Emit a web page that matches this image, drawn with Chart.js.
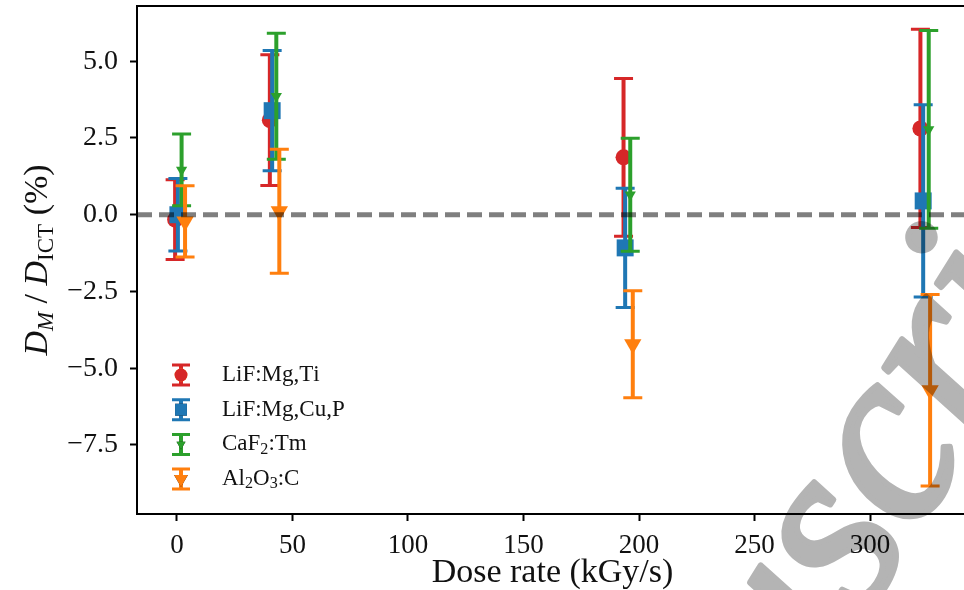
<!DOCTYPE html>
<html>
<head>
<meta charset="utf-8">
<script src="https://cdn.jsdelivr.net/npm/chart.js@4.4.1/dist/chart.umd.min.js"></script>
<style>
  html, body { margin: 0; padding: 0; overflow: hidden; background: #fff; }
  #wrap { width: 980px; height: 596px; margin-top: -6px; }
</style>
</head>
<body>
<div id="wrap"><canvas id="chart" width="980" height="596"></canvas></div>
<script>
// values (offsets in x are as plotted)
const seriesNames = ['LiF:Mg,Ti', 'LiF:Mg,Cu,P', 'CaF₂:Tm', 'Al₂O₃:C'];
const seriesColors = ['#d62728', '#1f77b4', '#2ca02c', '#ff7f0e'];

const lifTiX = [-0.8, 40.2, 193.3, 321.8];
const lifTiY = [-0.16, 3.08, 1.87, 2.81];
const lifTiErr = [1.30, 2.13, 2.57, 3.23];

const lifCuX = [0.4, 41.2, 194.0, 323.0];
const lifCuY = [0.0, 3.39, -1.08, 0.45];
const lifCuErr = [1.18, 1.96, 1.94, 3.13];

const caf2X = [2.0, 43.0, 196.2, 325.4];
const caf2Y = [1.46, 3.86, 0.65, 2.78];
const caf2Err = [1.17, 2.05, 1.84, 3.22];

const al2o3X = [3.5, 44.3, 197.3, 326.0];
const al2o3Y = [-0.22, 0.11, -4.22, -5.72];
const al2o3Err = [1.16, 2.02, 1.74, 3.12];

const xLimits = [-17.3, 342.4];
const yLimits = [-9.75, 6.8];
const watermark = 'Manuscript';

const allX = [lifTiX, lifCuX, caf2X, al2o3X];
const allY = [lifTiY, lifCuY, caf2Y, al2o3Y];
const allErr = [lifTiErr, lifCuErr, caf2Err, al2o3Err];
const markers = [
  { style: 'circle', radius: 8, rotation: 0 },
  { style: 'rect', radius: 12, rotation: 0 },
  { style: 'triangle', radius: 6.5, rotation: 180 },
  { style: 'triangle', radius: 10, rotation: 180 }
];

const serif = '"Liberation Serif", "DejaVu Serif", serif';
const subMap = { '₀': '0', '₁': '1', '₂': '2', '₃': '3', '₄': '4' };
const SHIFT = 6; // canvas is pulled up by this much

function drawRich(ctx, text, x, y, size) {
  // unicode subscript digits drawn as real subscripts
  let cx = x;
  for (const ch of text) {
    if (subMap[ch]) {
      ctx.font = (size * 0.7) + 'px ' + serif;
      ctx.fillText(subMap[ch], cx, y + size * 0.22);
      cx += ctx.measureText(subMap[ch]).width;
    } else {
      ctx.font = size + 'px ' + serif;
      ctx.fillText(ch, cx, y);
      cx += ctx.measureText(ch).width;
    }
  }
}

function drawErrBar(ctx, x, yTop, yBot, color, capHalf) {
  ctx.save();
  ctx.strokeStyle = color;
  ctx.lineWidth = 4;
  ctx.beginPath();
  ctx.moveTo(x, yTop); ctx.lineTo(x, yBot);
  ctx.stroke();
  ctx.lineWidth = 3;
  ctx.beginPath();
  ctx.moveTo(x - capHalf, yTop); ctx.lineTo(x + capHalf, yTop);
  ctx.moveTo(x - capHalf, yBot); ctx.lineTo(x + capHalf, yBot);
  ctx.stroke();
  ctx.restore();
}

const errorBars = {
  id: 'errorBars',
  beforeDatasetDraw(chart, args) {
    const i = args.index;
    if (i > 3) return;
    const { ctx, scales } = chart;
    allX[i].forEach((xv, k) => {
      const px = scales.x.getPixelForValue(xv);
      const top = scales.y.getPixelForValue(allY[i][k] + allErr[i][k]);
      const bot = scales.y.getPixelForValue(allY[i][k] - allErr[i][k]);
      drawErrBar(ctx, px, top, bot, seriesColors[i], 9.5);
    });
  },
  afterDraw(chart) {
    const { ctx, chartArea } = chart;
    // rest of the frame
    ctx.save();
    ctx.strokeStyle = '#000';
    ctx.lineWidth = 2;
    ctx.beginPath();
    ctx.moveTo(chartArea.left, chartArea.top);
    ctx.lineTo(chartArea.right, chartArea.top);
    ctx.lineTo(chartArea.right, chartArea.bottom);
    ctx.stroke();
    ctx.restore();

    // legend
    ctx.save();
    ctx.translate(0, SHIFT);
    ctx.textBaseline = 'middle';
    seriesNames.forEach((name, i) => {
      const y = 375 + i * 34.7;
      drawErrBar(ctx, 181, y - 10, y + 10, seriesColors[i], 9);
      Chart.helpers.drawPoint(ctx, {
        pointStyle: markers[i].style,
        rotation: markers[i].rotation,
        radius: markers[i].radius * (i === 1 ? 0.7 : 0.8),
        borderWidth: 0
      }, 181, y);
      ctx.fillStyle = seriesColors[i];
      ctx.fill();
      ctx.fillStyle = '#111';
      drawRich(ctx, name, 222, y, 23);
    });
    ctx.restore();

    // y axis title: D_M / D_ICT (%)
    ctx.save();
    ctx.translate(47, 260 + SHIFT);
    ctx.rotate(-Math.PI / 2);
    ctx.fillStyle = '#111';
    ctx.textBaseline = 'alphabetic';
    const parts = [
      ['D', 'italic 34px', 0], ['M', 'italic 23px', 6],
      [' / ', '34px', 0], ['D', 'italic 34px', 0], ['ICT', '23px', 6], [' (%)', '34px', 0]
    ];
    let w = 0;
    parts.forEach(p => { ctx.font = p[1] + ' ' + serif; w += ctx.measureText(p[0]).width; });
    let cx = -w / 2;
    parts.forEach(p => {
      ctx.font = p[1] + ' ' + serif;
      ctx.fillText(p[0], cx, p[2]);
      cx += ctx.measureText(p[0]).width;
    });
    ctx.restore();

    // manuscript watermark, rendered apart then multiplied in
    const wm = document.createElement('canvas');
    wm.width = chart.width; wm.height = chart.height;
    const wc = wm.getContext('2d');
    const fs = 250;
    wc.font = 'italic ' + fs + 'px ' + serif;
    wc.fillStyle = '#b4b4b4';
    wc.strokeStyle = '#b4b4b4';
    wc.lineWidth = 6;
    wc.lineJoin = 'round';
    const ang = -58 * Math.PI / 180;
    const xd = [Math.cos(ang), Math.sin(ang)];
    const yd = [-Math.sin(ang), Math.cos(ang)];
    const pre = wc.measureText('Manu').width;
    const sw = wc.measureText('s').width;
    const along = pre + sw / 2, up = fs * 0.22;
    wc.translate(842 - along * xd[0] + up * yd[0], 548 + SHIFT - along * xd[1] + up * yd[1]);
    wc.rotate(ang);
    wc.fillText(watermark, 0, 0);
    wc.strokeText(watermark, 0, 0);
    ctx.save();
    ctx.globalCompositeOperation = 'multiply';
    ctx.drawImage(wm, 0, 0);
    ctx.restore();
  }
};

const datasets = seriesNames.map((name, i) => ({
  label: name,
  data: allX[i].map((x, k) => ({ x: x, y: allY[i][k] })),
  backgroundColor: seriesColors[i],
  borderColor: seriesColors[i],
  pointStyle: markers[i].style,
  pointRadius: markers[i].radius,
  pointRotation: markers[i].rotation,
  pointBorderWidth: 0,
  showLine: false,
  order: 4 - i
}));

datasets.push({
  label: 'zero',
  type: 'line',
  data: [{ x: xLimits[0], y: 0 }, { x: xLimits[1], y: 0 }],
  borderColor: 'rgba(0,0,0,0.5)',
  borderWidth: 5,
  borderDash: [15, 7],
  pointRadius: 0,
  order: 0
});

new Chart(document.getElementById('chart'), {
  type: 'scatter',
  data: { datasets: datasets },
  options: {
    responsive: false,
    animation: false,
    devicePixelRatio: 1,
    clip: false,
    layout: { padding: { left: 0, top: 0, right: 2, bottom: 0 } },
    plugins: { legend: { display: false }, tooltip: { enabled: false } },
    scales: {
      x: {
        type: 'linear',
        min: xLimits[0], max: xLimits[1],
        afterFit: s => { s.height = 76; s.paddingLeft = 0; s.paddingRight = 0; },
        border: { color: '#000', width: 2 },
        grid: { drawOnChartArea: false, tickLength: 7, tickColor: '#000', tickWidth: 2 },
        ticks: {
          stepSize: 50, includeBounds: false, color: '#111', padding: 9,
          font: { family: serif, size: 27 },
          maxRotation: 0,
          callback: v => v.toFixed(0)
        },
        title: {
          display: true, text: 'Dose rate (kGy/s)', color: '#111',
          font: { family: serif, size: 34 }, padding: { top: 0, bottom: -3 }
        }
      },
      y: {
        type: 'linear',
        min: yLimits[0], max: yLimits[1],
        afterFit: s => { s.width = 137; s.paddingTop = 0; s.paddingBottom = 0; },
        border: { color: '#000', width: 2 },
        grid: { drawOnChartArea: false, tickLength: 7, tickColor: '#000', tickWidth: 2 },
        ticks: {
          stepSize: 2.5, includeBounds: false, color: '#111', padding: 12,
          font: { family: serif, size: 28 },
          callback: v => (v < 0 ? '\u2212' : '') + Math.abs(v).toFixed(1)
        }
      }
    }
  },
  plugins: [errorBars]
});
</script>
</body>
</html>
